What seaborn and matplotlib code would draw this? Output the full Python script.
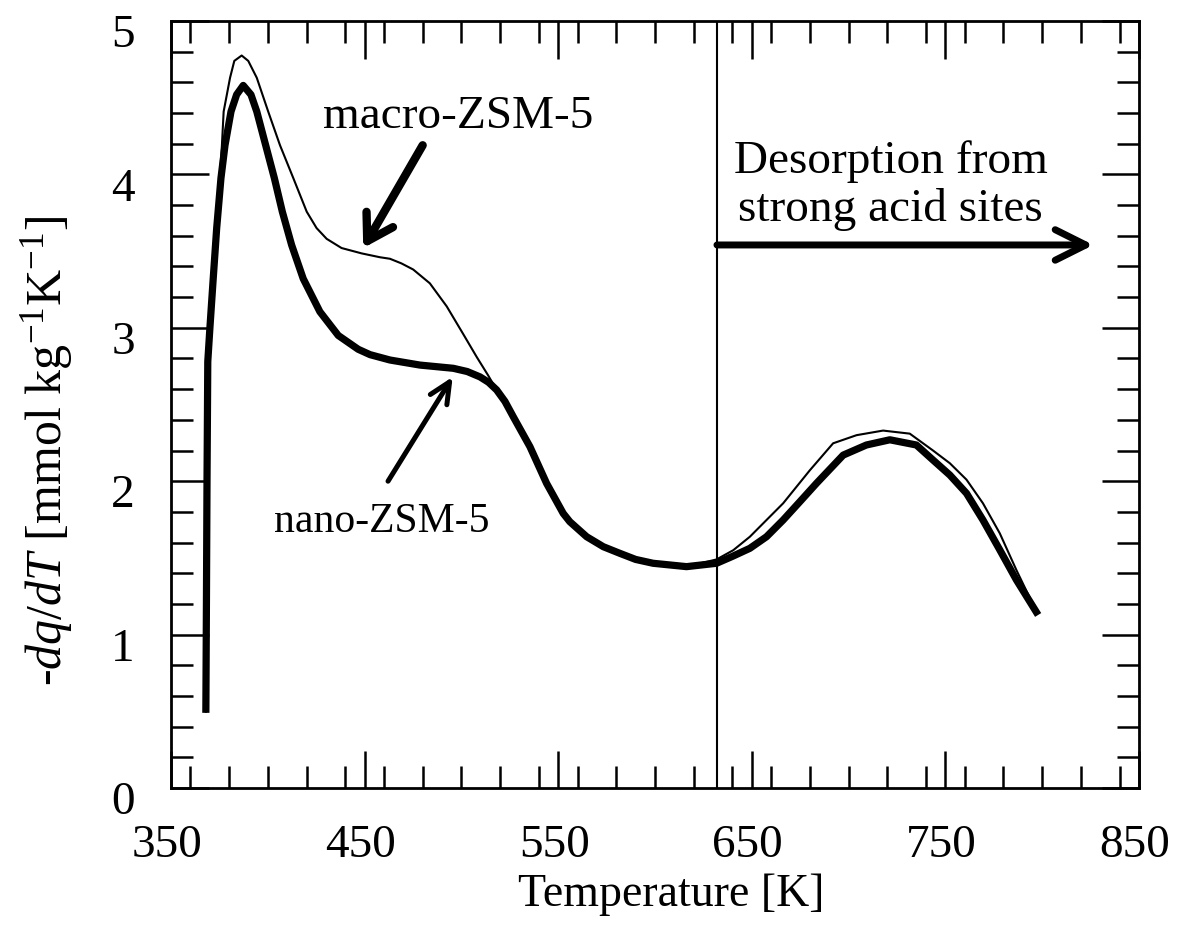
import matplotlib
matplotlib.use("Agg")
import matplotlib.pyplot as plt
import matplotlib.transforms as mtransforms
from matplotlib.patches import FancyArrowPatch, ArrowStyle
from matplotlib.ticker import MultipleLocator
import numpy as np
import pandas as pd
import seaborn as sns

# ---- TPD derivative curves (-dq/dT vs temperature) ----
nano_T = [368.0, 368.3, 368.6, 369.0, 370.1, 371.8, 373.6, 375.8, 377.9, 381.0,
          383.9, 387.3, 391.3, 394.3, 398.9, 403.4, 407.5, 412.3, 418.3, 426.9,
          436.4, 446.7, 452.8, 463.1, 478.6, 495.8, 503.0, 509.6, 514.0, 518.2,
          522.5, 526.8, 535.4, 544.0, 552.6, 556.0, 564.7, 573.3, 581.8, 590.0,
          599.0, 616.3, 631.8, 640.0, 649.0, 657.6, 666.2, 674.8, 683.4, 697.2,
          709.2, 721.3, 735.0, 743.6, 752.3, 760.9, 769.4, 778.1, 786.7, 797.9]
nano_q = [0.49, 1.20, 2.00, 2.78, 3.00, 3.32, 3.65, 3.975, 4.19, 4.41,
          4.52, 4.58, 4.52, 4.41, 4.19, 3.975, 3.757, 3.54, 3.32, 3.105,
          2.95, 2.86, 2.825, 2.79, 2.757, 2.736, 2.715, 2.68, 2.645, 2.595,
          2.52, 2.42, 2.225, 1.986, 1.79, 1.736, 1.638, 1.573, 1.53, 1.49,
          1.465, 1.443, 1.465, 1.51, 1.5625, 1.638, 1.747, 1.866, 1.986, 2.17,
          2.236, 2.27, 2.236, 2.138, 2.04, 1.921, 1.747, 1.552, 1.356, 1.128]

macro_T = [368.0, 368.3, 368.6, 369.0, 370.1, 371.8, 373.4, 375.2, 376.3, 377.2,
           380.5, 382.7, 386.5, 389.9, 394.3, 400.2, 406.3, 413.2, 420.1, 425.2,
           430.4, 438.1, 448.5, 457.9, 463.1, 469.0, 475.1, 483.7, 492.4, 500.9,
           507.9, 513.8, 518.2, 522.5, 526.8, 535.4, 544.0, 552.6, 556.0, 564.7,
           573.3, 581.8, 590.0, 599.0, 616.3, 631.8, 640.4, 649.0, 666.2, 679.9,
           692.0, 704.1, 717.8, 731.6, 743.6, 752.3, 760.9, 769.4, 778.1, 786.7,
           797.0]
macro_q = [0.49, 1.20, 2.00, 2.78, 3.00, 3.32, 3.65, 3.975, 4.19, 4.41,
           4.63, 4.74, 4.775, 4.74, 4.63, 4.41, 4.19, 3.975, 3.757, 3.65,
           3.58, 3.52, 3.485, 3.46, 3.45, 3.42, 3.38, 3.29, 3.14, 2.96,
           2.81, 2.69, 2.595, 2.52, 2.42, 2.225, 1.986, 1.79, 1.736, 1.638,
           1.573, 1.53, 1.49, 1.465, 1.443, 1.49, 1.55, 1.638, 1.856, 2.07,
           2.247, 2.30, 2.33, 2.31, 2.20, 2.117, 2.01, 1.856, 1.66, 1.42,
           1.15]

strong_site_T = 632.0

x_ticks = [350, 450, 550, 650, 750, 850]
y_ticks = [0, 1, 2, 3, 4, 5]

sns.set_style("ticks")
plt.rcParams["font.family"] = ["Liberation Serif", "DejaVu Serif"]
plt.rcParams["mathtext.fontset"] = "custom"
plt.rcParams["mathtext.rm"] = "Liberation Serif"
plt.rcParams["mathtext.it"] = "Liberation Serif:italic"
for key in ("text.color", "axes.labelcolor", "xtick.color", "ytick.color",
            "axes.edgecolor"):
    plt.rcParams[key] = "black"

W, H = 1177, 939
fig = plt.figure(figsize=(W / 100, H / 100), dpi=100)
ax = fig.add_axes([171 / W, 1 - 788 / H, (1139 - 171) / W, (788 - 21) / H])

df_macro = pd.DataFrame({"T": macro_T, "q": macro_q})
df_nano = pd.DataFrame({"T": nano_T, "q": nano_q})

sns.lineplot(data=df_macro, x="T", y="q", ax=ax, color="black", linewidth=1.5,
             sort=False, estimator=None, legend=False)
sns.lineplot(data=df_nano, x="T", y="q", ax=ax, color="black", linewidth=5.2,
             sort=False, estimator=None, legend=False)
for ln in ax.get_lines():
    ln.set_solid_capstyle("butt")
    ln.set_solid_joinstyle("round")

ax.axvline(strong_site_T, color="black", linewidth=1.5)

ax.set_xlim(350, 850)
ax.set_ylim(0, 5)
ax.set_xticks(x_ticks)
ax.set_yticks(y_ticks)
ax.xaxis.set_minor_locator(MultipleLocator(20))
ax.yaxis.set_minor_locator(MultipleLocator(0.2))
ax.tick_params(which="both", direction="in", top=True, right=True,
               width=1.8, colors="black")
ax.tick_params(which="major", length=27, labelsize=34, pad=26)
ax.tick_params(which="minor", length=16)
for s in ax.spines.values():
    s.set_linewidth(2.0)
    s.set_color("black")

# small offsets for tick labels
for t in ax.yaxis.get_major_ticks():
    t.label1.set_transform(t.label1.get_transform() +
                           mtransforms.ScaledTranslation(0, -0.10, fig.dpi_scale_trans))
for t in ax.xaxis.get_major_ticks():
    t.label1.set_transform(t.label1.get_transform() +
                           mtransforms.ScaledTranslation(-0.04, 0, fig.dpi_scale_trans))

ax.set_xlabel("Temperature [K]", fontsize=33)
ax.xaxis.set_label_coords(0.5165, -0.111)
ax.set_ylabel(r"-$dq$/$dT$ [mmol kg$^{-1}$K$^{-1}$]", fontsize=36)
ax.yaxis.set_label_coords(-0.099, 0.44)

# annotations
ax.text(498.2, 4.30, "macro-ZSM-5", fontsize=34, ha="center", va="baseline")
ax.text(458.7, 1.67, "nano-ZSM-5", fontsize=30, ha="center", va="baseline")
ax.text(721.8, 3.63, "Desorption from\nstrong acid sites", fontsize=34,
        ha="center", va="bottom", multialignment="center", linespacing=1.15)


def arrow(p0, p1, lw, hl, hw):
    a = FancyArrowPatch(p0, p1, arrowstyle=ArrowStyle("->", head_length=hl, head_width=hw),
                        mutation_scale=1, linewidth=lw, color="black",
                        shrinkA=0, shrinkB=0, capstyle="round", joinstyle="round")
    ax.add_patch(a)


arrow((480.0, 4.19), (449.3, 3.52), 6.0, 18, 11)
arrow((462.1, 2.00), (495.5, 2.68), 3.6, 15, 7)
arrow((strong_site_T, 3.54), (826.5, 3.54), 5.0, 22, 11)

fig.savefig("out.png", dpi=100)
